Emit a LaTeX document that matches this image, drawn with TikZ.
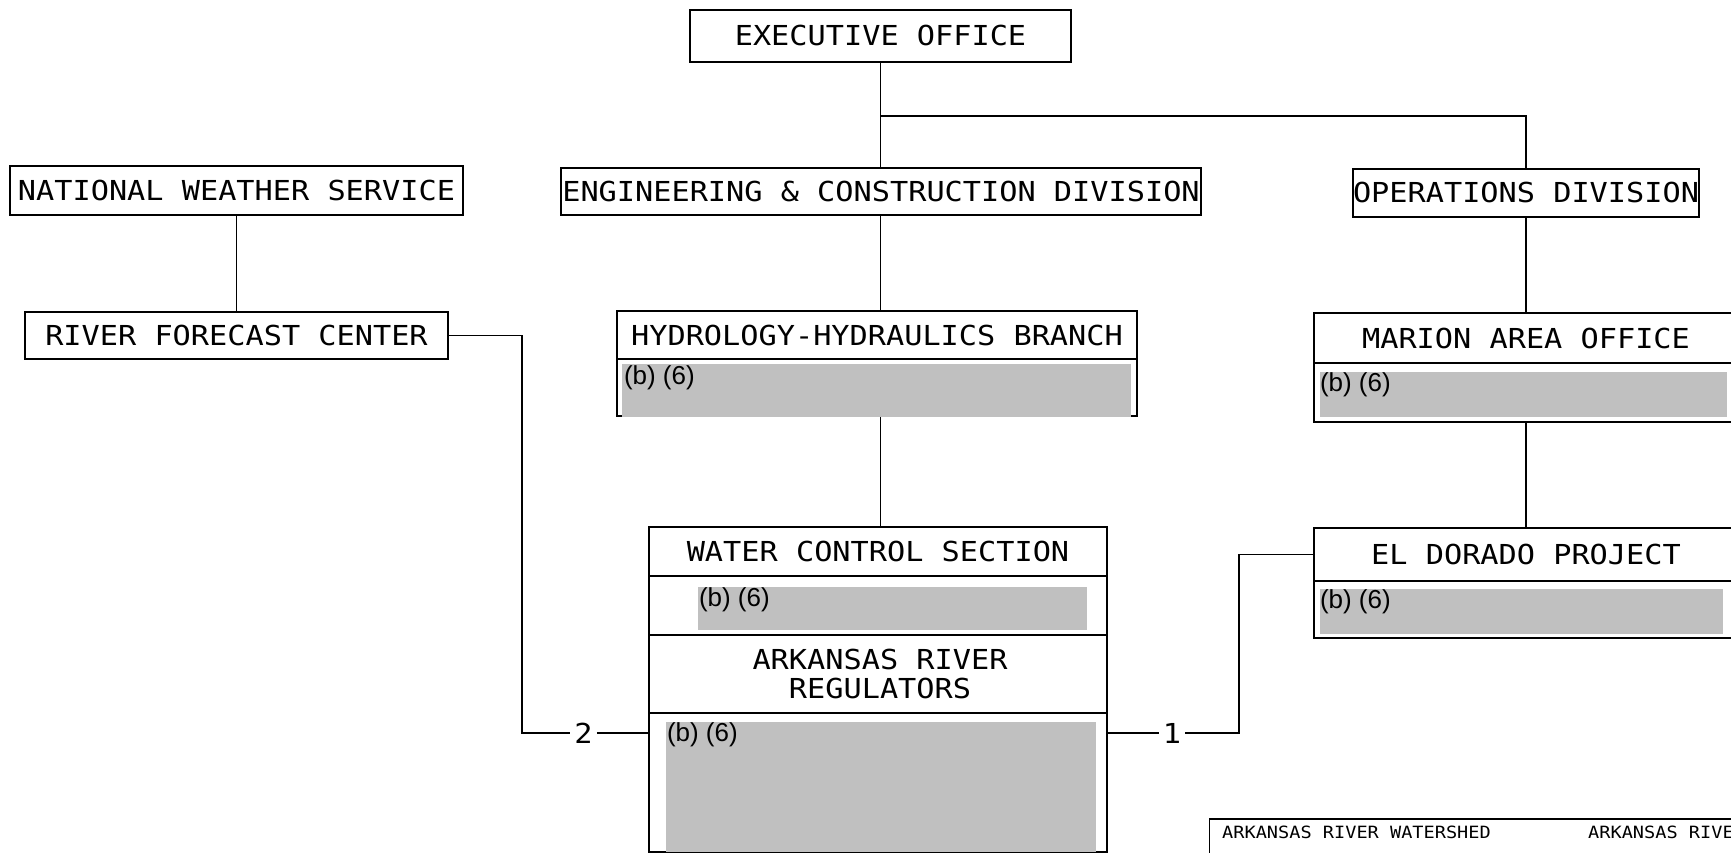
\documentclass[tikz,border=0pt]{standalone}
\usepackage{fontspec}
\newfontfamily\cadfont[FakeStretch=1.1]{DejaVu Sans Mono}
\newfontfamily\arialfont{Liberation Sans}
\definecolor{redact}{RGB}{192,192,192}
\tikzset{
  box/.style={draw=black, line width=1.6pt, rectangle, inner sep=0pt,
    font=\cadfont\fontsize{27.5pt}{29pt}\selectfont, text height=20pt, text depth=0pt},
  redactbox/.style={fill=redact, draw=none, rectangle, inner sep=0pt},
  bsix/.style={font=\arialfont\fontsize{26pt}{28pt}\selectfont, inner sep=0pt, anchor=north west},
  cadtext/.style={font=\cadfont\fontsize{27.5pt}{29pt}\selectfont, inner sep=0pt, text height=20pt, text depth=0pt},
  tag/.style={font=\cadfont\fontsize{27.5pt}{29pt}\selectfont, inner sep=4pt, text height=20pt, text depth=0pt},
  smalltext/.style={font=\cadfont\fontsize{16.9pt}{18pt}\selectfont, inner sep=0pt, text height=12.5pt, text depth=0pt, anchor=west},
  link/.style={draw=black, line width=1.4pt},
}
\begin{document}
\begin{tikzpicture}[x=1pt,y=-1pt]
\useasboundingbox (0,0) rectangle (1731,853);
\fill[white] (0,0) rectangle (1731,853);
\clip (0,0) rectangle (1731,853);

% top level
\node[box, minimum width=381pt, minimum height=52pt] (exec) at (880.5,36) {EXECUTIVE OFFICE};
\node[box, minimum width=453pt, minimum height=49pt] (nws) at (236.5,190.5) {NATIONAL WEATHER SERVICE};
\node[box, minimum width=423pt, minimum height=47pt] (rfc) at (236.5,335.5) {RIVER FORECAST CENTER};
\node[box, minimum width=640pt, minimum height=47pt] (eng) at (881,191.5) {ENGINEERING \& CONSTRUCTION DIVISION};
\node[box, minimum width=346pt, minimum height=48pt] (ops) at (1526,193) {OPERATIONS DIVISION};

% hydrology-hydraulics branch
\node[box, minimum width=520pt, minimum height=48pt] (hh) at (877,335) {HYDROLOGY-HYDRAULICS BRANCH};
\node[box, minimum width=520pt, minimum height=57pt] (hhb) at (877,387.5) {};
\node[redactbox, minimum width=509pt, minimum height=53pt] (hhg) at (876.5,390.5) {};
\node[bsix] (hht) at ([shift={(2pt,-2pt)}]hhg.north west) {(b) (6)};

% water control section
\node[box, minimum width=458pt, minimum height=49pt] (wcs) at (878,551.5) {WATER CONTROL SECTION};
\node[box, minimum width=458pt, minimum height=59pt] (wcsb) at (878,605.5) {};
\node[redactbox, minimum width=389pt, minimum height=43pt] (wcsg) at (892.5,608.5) {};
\node[bsix] (wcst) at ([shift={(1pt,-1pt)}]wcsg.north west) {(b) (6)};
\node[box, minimum width=458pt, minimum height=78pt] (arr) at (878,674) {};
\node[cadtext] (arrA) at (880,659) {ARKANSAS RIVER};
\node[cadtext] (arrB) at (880,688) {REGULATORS};
\node[box, minimum width=458pt, minimum height=139pt] (arrb) at (878,782.5) {};
\node[redactbox, minimum width=430pt, minimum height=130pt] (arrg) at (881,787) {};
\node[bsix] (arrt) at ([shift={(1pt,-1pt)}]arrg.north west) {(b) (6)};

% marion area office
\node[box, minimum width=424pt, minimum height=50pt] (mao) at (1526,338) {MARION AREA OFFICE};
\node[box, minimum width=424pt, minimum height=59pt] (maob) at (1526,392.5) {};
\node[redactbox, minimum width=407pt, minimum height=45pt] (maog) at (1523.5,394.5) {};
\node[bsix] (maot) at ([shift={(0pt,-1pt)}]maog.north west) {(b) (6)};

% el dorado project
\node[box, minimum width=424pt, minimum height=53pt] (edp) at (1526,554.5) {EL DORADO PROJECT};
\node[box, minimum width=424pt, minimum height=57pt] (edpb) at (1526,609.5) {};
\node[redactbox, minimum width=403pt, minimum height=45pt] (edpg) at (1521.5,611.5) {};
\node[bsix] (edpt) at ([shift={(0pt,-1pt)}]edpg.north west) {(b) (6)};

% legend block (cut off)
\node[box, minimum width=591pt, minimum height=62pt] (legend) at (1505,850) {};
\node[smalltext] (legA) at (1222,832.5) {ARKANSAS RIVER WATERSHED};
\node[smalltext] (legB) at (1588,832.5) {ARKANSAS RIVE};

% connector labels
\node[tag] (lbl2) at (583.5,733) {2};
\node[tag] (lbl1) at (1172,733) {1};
\coordinate (bendL) at (522,733);
\coordinate (bendR) at (1239,733);
\coordinate (junc) at (880.5,116);

% connectors
\draw[link] (exec.south) -- (exec.south |- eng.north);
\draw[link] (junc) -| (ops.north);
\draw[link] (nws.south) -- (rfc.north);
\draw[link] (exec.south |- eng.south) -- (exec.south |- hh.north);
\draw[link] (exec.south |- hhb.south) -- (exec.south |- wcs.north);
\draw[link] (ops.south) -- (mao.north);
\draw[link] (maob.south) -- (edp.north);
\draw[link] (rfc.east) -| (bendL) -- (lbl2.west);
\draw[link] (lbl2.east) -- (lbl2.east -| arrb.west);
\draw[link] (lbl1.west -| arrb.east) -- (lbl1.west);
\draw[link] (lbl1.east) -- (bendR) |- (edp.west);
\end{tikzpicture}
\end{document}
